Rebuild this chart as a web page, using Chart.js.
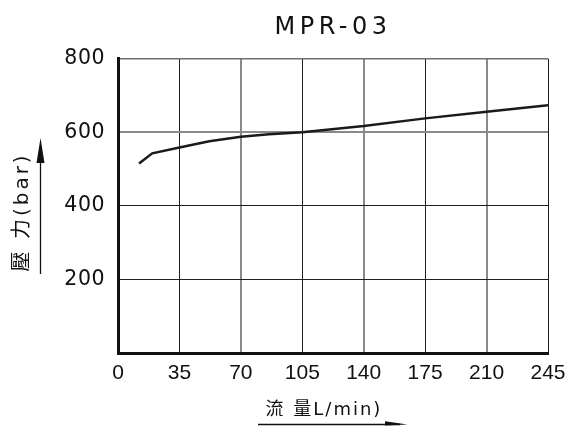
<!DOCTYPE html>
<html><head><meta charset="utf-8">
<script src="https://cdn.jsdelivr.net/npm/chart.js@4/dist/chart.umd.min.js"></script>
<style>html,body{margin:0;padding:0;background:#fff;overflow:hidden;}</style>
</head><body>
<canvas id="c" width="582" height="426"></canvas>
<script>
// ---- data ----
const chartTitle = 'MPR-03';
const xTitle = '流 量L/min)';
const yTitle = '壓 力(bar)';
const flow = [12, 19.5, 35, 52, 70, 86, 105, 140, 175, 210, 245];
const pressure = [515, 543, 559, 576, 588, 595, 600, 617, 638, 656, 674];
const xTicks = [0, 35, 70, 105, 140, 175, 210, 245];
const yTicks = [0, 200, 400, 600, 800];

const SANS = "'Liberation Sans', Arial, 'Noto Sans CJK TC', sans-serif";
const WIDE = "'DejaVu Sans', 'Noto Sans CJK TC', sans-serif";

function wrapText(obj, method, sp, dx, dy) {
  if (!obj || obj['__sp_' + method]) return;
  const orig = obj[method];
  obj[method] = function (...args) {
    const ctx = this.ctx;
    ctx.save();
    try { ctx.letterSpacing = sp; } catch (e) {}
    ctx.translate(dx || 0, dy || 0);
    const r = orig.apply(this, args);
    ctx.restore();
    return r;
  };
  obj['__sp_' + method] = true;
}

const textPlugin = {
  id: 'textTune',
  afterLayout(chart) {
    wrapText(chart.titleBlock, 'draw', '4.5px', 0, 0);
    wrapText(chart.scales.x, 'drawLabels', '0px', 0, 0);
    wrapText(chart.scales.x, 'drawTitle', '2px', -9, 0);
    wrapText(chart.scales.y, 'drawLabels', '0.5px', 0, 0);
    wrapText(chart.scales.y, 'drawTitle', '3px', 0, 6);
  }
};

const arrowPlugin = {
  id: 'arrows',
  afterDraw(chart) {
    const ctx = chart.ctx;
    ctx.save();
    ctx.strokeStyle = '#111';
    ctx.fillStyle = '#111';
    ctx.lineWidth = 1.3;
    // y-axis title arrow
    ctx.beginPath();
    ctx.moveTo(40.5, 274);
    ctx.lineTo(40.5, 160);
    ctx.stroke();
    ctx.beginPath();
    ctx.moveTo(40.5, 138);
    ctx.lineTo(36.5, 163);
    ctx.lineTo(44.5, 163);
    ctx.closePath();
    ctx.fill();
    // x-axis title arrow
    ctx.beginPath();
    ctx.moveTo(258, 424.5);
    ctx.lineTo(400, 424.5);
    ctx.stroke();
    ctx.beginPath();
    ctx.moveTo(385, 421.3);
    ctx.lineTo(407.5, 424.5);
    ctx.lineTo(385, 425.5);
    ctx.closePath();
    ctx.fill();
    ctx.restore();
  }
};

const xGridColor = v => ([70, 140, 210].includes(v) ? '#8a8a8a' : '#1e1e1e');
const xGridWidth = v => ([70, 140, 210].includes(v) ? 2 : 1);
const yGridColor = v => (v === 600 ? '#8a8a8a' : v === 800 ? '#6e6e6e' : '#1e1e1e');
const yGridWidth = v => (v === 600 ? 2 : v === 800 ? 1.5 : 1);

new Chart(document.getElementById('c'), {
  type: 'line',
  data: {
    datasets: [{
      data: flow.map((f, i) => ({ x: f, y: pressure[i] })),
      borderColor: '#1a1a1a',
      borderWidth: 2.5,
      pointRadius: 0,
      tension: 0,
      fill: false
    }]
  },
  plugins: [textPlugin, arrowPlugin],
  options: {
    responsive: false,
    devicePixelRatio: 1,
    animation: false,
    layout: { padding: { left: 0, right: 34, top: 0, bottom: 0 } },
    plugins: {
      legend: { display: false },
      tooltip: { enabled: false },
      title: {
        display: true,
        text: chartTitle,
        fullSize: false,
        color: '#111',
        font: { family: WIDE, size: 24, weight: 'normal' },
        padding: { top: 13, bottom: 17 }
      }
    },
    scales: {
      x: {
        type: 'linear',
        min: 0,
        max: 245,
        afterBuildTicks: s => { s.ticks = xTicks.map(v => ({ value: v })); },
        afterFit: s => { s.height = 73; },
        grid: {
          drawTicks: false,
          color: c => xGridColor(c.tick ? c.tick.value : 0),
          lineWidth: c => xGridWidth(c.tick ? c.tick.value : 0)
        },
        border: { display: true, color: '#111', width: 3 },
        ticks: {
          autoSkip: false,
          maxRotation: 0,
          padding: 8,
          color: '#111',
          font: { family: SANS, size: 21 }
        },
        title: {
          display: true,
          text: xTitle,
          color: '#111',
          font: { family: WIDE, size: 18 },
          padding: { top: 0, bottom: 5 }
        }
      },
      y: {
        type: 'linear',
        min: 0,
        max: 800,
        afterBuildTicks: s => { s.ticks = yTicks.map(v => ({ value: v })); },
        afterFit: s => { s.width = 118; },
        grid: {
          drawTicks: false,
          color: c => yGridColor(c.tick ? c.tick.value : 0),
          lineWidth: c => yGridWidth(c.tick ? c.tick.value : 0)
        },
        border: { display: true, color: '#111', width: 3 },
        ticks: {
          padding: 13,
          color: '#111',
          font: { family: WIDE, size: 20.5 },
          callback: v => (v === 0 ? '' : String(v))
        },
        title: {
          display: true,
          text: yTitle,
          color: '#111',
          font: { family: WIDE, size: 20 },
          padding: { top: 11, bottom: 0 }
        }
      }
    }
  }
});
</script>
</body></html>
